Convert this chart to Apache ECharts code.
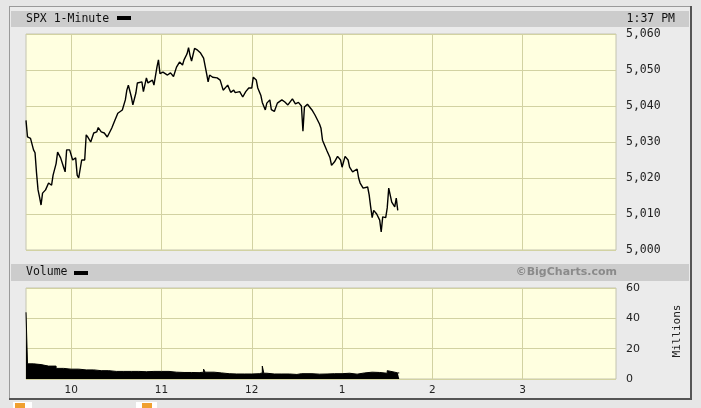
<!DOCTYPE html>
<html><head><meta charset="utf-8">
<script src="https://cdn.jsdelivr.net/npm/echarts@6/dist/echarts.min.js"></script>
<style>html,body{margin:0;padding:0;background:#e6e6e6}#c{width:701px;height:408px}</style>
</head><body><div id="c"></div><script>
// ---- data (minutes after 9:30 open) ----
const priceMinutes = [
0,1,3,5,6,7,8,9,10,11,
13,15,17,18,20,21,23,25,26,27,
29,31,33,34,35,37,39,40,41,43,
45,47,48,50,52,54,57,59,61,64,
66,67,68,70,71,73,74,77,78,80,
81,84,85,87,88,89,91,94,96,98,
100,102,104,105,107,108,109,110,112,114,
116,118,120,121,122,124,127,129,131,132,
134,136,138,139,140,142,144,146,148,150,
151,153,154,156,157,159,160,162,163,165,
167,170,172,174,177,179,181,183,184,185,
187,190,192,195,196,197,200,202,203,205,
207,209,210,212,214,215,217,220,221,222,
224,227,228,229,230,231,233,235,236,237,
239,240,241,242,243,245,246,247];
const priceValues = [
5036,5031.4,5031,5027.8,5027,5021.4,5016.7,5014.7,5012.5,5015.8,
5016.7,5018.6,5018,5020.8,5024,5027.2,5025.6,5023,5021.7,5027.8,
5027.8,5025,5025.6,5020.8,5020,5025,5025,5032,5031.4,5030,
5032.5,5032.8,5034,5032.8,5032.5,5031.4,5033.9,5036,5038,5038.9,
5041.7,5044.4,5045.8,5042.5,5040.3,5043.6,5046.4,5046.7,5044,5047.8,
5046.4,5047.2,5045.8,5050.8,5052.8,5049,5049.4,5048.6,5049.2,5048.2,
5050.8,5052.2,5051.4,5052.8,5054.5,5056.2,5054,5052.5,5056,5055.5,
5054.7,5053.3,5049,5046.7,5048.6,5048,5047.8,5047.2,5044.4,5044.5,
5045.8,5043.8,5044.4,5043.7,5043.6,5044,5042.5,5044,5045,5045,
5048,5047.2,5045,5043,5041,5038.9,5040.8,5041.7,5039,5038.5,
5040.8,5041.7,5041.1,5040.3,5042,5040.6,5041,5040,5033,5039.7,
5040.5,5038.9,5037.5,5035,5033.8,5030.5,5027.5,5025.6,5023.5,5024.5,
5026,5025,5023,5026,5025,5023,5021.7,5022.5,5020,5018.6,
5017.2,5017.5,5015.3,5012,5009,5011,5010,5008.3,5005,5009.2,
5009,5011.7,5017.2,5016.7,5013.3,5012,5014.4,5011];
const volumeMinutes = [0,1,5,10,15,20,25,30,35,40,41,45,50,55,60,65,70,75,80,85,86,90,95,100,105,110,115,118,119,125,130,135,140,145,150,155,157,158,160,165,170,175,180,183,184,190,195,200,205,210,215,220,225,230,235,240,241,245,247,248];
const volumeValues = [44,10,9.5,8.5,8.5,7,6.5,6.5,6,7,6,5.5,5.5,5,5,5,5,4.8,5,6,5,5,4.5,4.3,4.3,4.2,4.5,6.5,4.5,4,3.5,3.3,3.3,3.3,3.5,4,8.5,3.8,3.3,3.3,3.3,3,3.5,4.5,3.5,3.2,3.3,3.5,3.5,3.8,3.2,4,4.5,4.3,3.8,5.5,4.5,4,4,4];
const hourTicks = [600,660,720,780,840,900];      // minutes of day
const hourLabels = ['10','11','12','1','2','3'];
const priceTicks = [5000,5010,5020,5030,5040,5050,5060];
const volumeTicks = [0,20,40,60];

const OPEN = 570;
const priceData = priceMinutes.map((m,i)=>[OPEN+m, priceValues[i]]);
const volumeData = volumeMinutes.map((m,i)=>[OPEN+m, volumeValues[i]]);
const gridColor = '#d2d2a2';
const vLines = hourTicks.map(h=>({xAxis:h}));
const markLineCfg = {silent:true, symbol:['none','none'], z:1, label:{show:false},
  lineStyle:{color:gridColor, type:'solid', width:1}, data:vLines, animation:false};
const fmtComma = v => String(v).replace(/\B(?=(\d{3})+(?!\d))/g, ',');

const chart = echarts.init(document.getElementById('c'), null, {renderer:'canvas'});
const xBase = {type:'value', min:570, max:962, axisLine:{show:false}, axisTick:{show:false}, splitLine:{show:false}};
chart.setOption({
  animation:false,
  backgroundColor:'#ebebeb',
  grid:[
    {left:26, top:34, width:590, height:216, show:true, backgroundColor:'#ffffe0', borderColor:'#c4c4b0', borderWidth:1},
    {left:26, top:288, width:590, height:91, show:true, backgroundColor:'#ffffe0', borderColor:'#c4c4b0', borderWidth:1}
  ],
  xAxis:[
    Object.assign({}, xBase, {gridIndex:0, axisLabel:{show:false}}),
    Object.assign({}, xBase, {gridIndex:1, axisLabel:{show:true, customValues:hourTicks, margin:6,
      formatter:v=>{const i=hourTicks.indexOf(v); return i<0?'':hourLabels[i];},
      fontFamily:'DejaVu Sans', fontSize:10.5, color:'#222'}})
  ],
  yAxis:[
    {type:'value', gridIndex:0, position:'right', min:5000, max:5060, interval:10,
     axisLine:{show:false}, axisTick:{show:false},
     splitLine:{show:true, lineStyle:{color:gridColor, width:1}},
     axisLabel:{margin:10, formatter:fmtComma, fontFamily:'DejaVu Sans Mono', fontSize:11.5, color:'#222'}},
    {type:'value', gridIndex:1, position:'right', min:0, max:60, interval:20,
     axisLine:{show:false}, axisTick:{show:false},
     splitLine:{show:true, lineStyle:{color:gridColor, width:1}},
     axisLabel:{margin:10, fontFamily:'DejaVu Sans', fontSize:11, color:'#222'}}
  ],
  series:[
    {type:'line', xAxisIndex:0, yAxisIndex:0, data:priceData, showSymbol:false, z:3,
     lineStyle:{color:'#000', width:1.4}, markLine:markLineCfg},
    {type:'line', xAxisIndex:1, yAxisIndex:1, data:volumeData, showSymbol:false, step:'end', z:3,
     lineStyle:{color:'#000', width:1}, areaStyle:{color:'#000', opacity:1}, markLine:markLineCfg}
  ],
  graphic:[
    // outer margins
    {type:'rect', shape:{x:0,y:0,width:701,height:6}, style:{fill:'#e6e6e6'}, silent:true},
    {type:'rect', shape:{x:0,y:400,width:701,height:8}, style:{fill:'#e6e6e6'}, silent:true},
    {type:'rect', shape:{x:0,y:0,width:9,height:408}, style:{fill:'#e6e6e6'}, silent:true},
    {type:'rect', shape:{x:692,y:0,width:9,height:408}, style:{fill:'#e6e6e6'}, silent:true},
    // header bars
    {type:'rect', shape:{x:11,y:11,width:678,height:16}, style:{fill:'#cccccc'}, silent:true},
    {type:'rect', shape:{x:11,y:264,width:678,height:17}, style:{fill:'#cccccc'}, silent:true},
    // borders
    {type:'line', shape:{x1:9,y1:6.5,x2:691,y2:6.5}, style:{stroke:'#9a9a9a', lineWidth:1}, silent:true},
    {type:'line', shape:{x1:9.5,y1:6,x2:9.5,y2:400}, style:{stroke:'#9a9a9a', lineWidth:1}, silent:true},
    {type:'line', shape:{x1:691,y1:6,x2:691,y2:400}, style:{stroke:'#555', lineWidth:2}, silent:true},
    {type:'line', shape:{x1:9,y1:399,x2:692,y2:399}, style:{stroke:'#555', lineWidth:2}, silent:true},
    // header texts
    {type:'text', x:26, y:19, style:{text:'SPX 1-Minute', fontFamily:'DejaVu Sans Mono', fontSize:11.5, fill:'#111', verticalAlign:'middle'}, silent:true},
    {type:'rect', shape:{x:117,y:16,width:14,height:4}, style:{fill:'#000'}, silent:true},
    {type:'text', x:675, y:19, style:{text:'1:37 PM', fontFamily:'DejaVu Sans Mono', fontSize:11.5, fill:'#111', align:'right', verticalAlign:'middle'}, silent:true},
    {type:'text', x:26, y:272.5, style:{text:'Volume', fontFamily:'DejaVu Sans Mono', fontSize:11.5, fill:'#111', verticalAlign:'middle'}, silent:true},
    {type:'rect', shape:{x:74,y:271,width:14,height:4}, style:{fill:'#000'}, silent:true},
    {type:'text', x:617, y:272.5, style:{text:'©BigCharts.com', fontFamily:'DejaVu Sans', fontWeight:'bold', fontSize:11, fill:'#8a8a8a', align:'right', verticalAlign:'middle'}, silent:true},
    {type:'text', x:677, y:331, rotation:Math.PI/2, style:{text:'Millions', fontFamily:'DejaVu Sans Mono', fontSize:11, fill:'#222', align:'center', verticalAlign:'middle'}, silent:true},
    // bottom icons
    {type:'rect', z:10, shape:{x:13,y:402,width:19,height:6}, style:{fill:'#ffffff'}, silent:true},
    {type:'rect', z:11, shape:{x:15,y:403,width:10,height:5}, style:{fill:'#f0a030'}, silent:true},
    {type:'rect', z:10, shape:{x:136,y:402,width:21,height:6}, style:{fill:'#ffffff'}, silent:true},
    {type:'rect', z:11, shape:{x:142,y:403,width:10,height:5}, style:{fill:'#f0a030'}, silent:true}
  ]
});
</script></body></html>
